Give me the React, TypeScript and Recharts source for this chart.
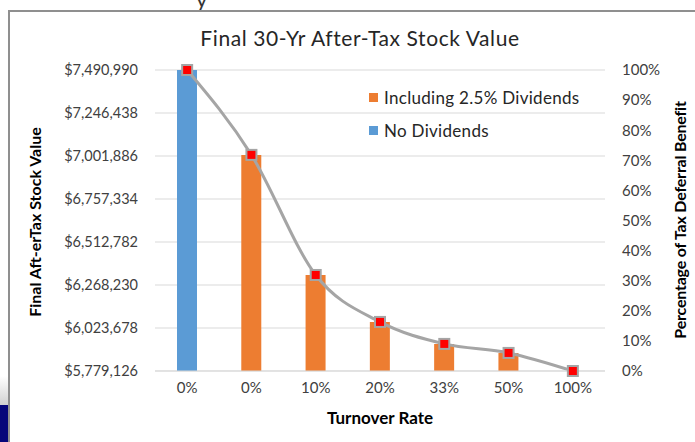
import React from 'react';
import {
  ComposedChart, Bar, Line, XAxis, YAxis, CartesianGrid, Legend, Cell
} from 'recharts';

const rates = ['0%', '0%', '10%', '20%', '33%', '50%', '100%'];
const stockValues = [7490990, 7007500, 6325100, 6057800, 5932700, 5881500, 5779126];
const deferralPct = [1.0, 0.718, 0.319, 0.163, 0.09, 0.06, 0.0];
const hasDividends = [false, true, true, true, true, true, true];

const valueTicks = [5779126, 6023678, 6268230, 6512782, 6757334, 7001886, 7246438, 7490990];
const pctTicks = [0, 0.1, 0.2, 0.3, 0.4, 0.5, 0.6, 0.7, 0.8, 0.9, 1.0];

const legendItems = [
  { label: 'Including 2.5% Dividends', color: '#ed7d31' },
  { label: 'No Dividends', color: '#5b9bd5' },
];

const BLUE = '#5b9bd5';
const ORANGE = '#ed7d31';
const FONT = 'Lato, "Open Sans", sans-serif';

const data = rates.map((rate, i) => ({
  rate,
  value: stockValues[i],
  pct: deferralPct[i],
  div: hasDividends[i],
}));

const SquareDot = (props: any) => {
  const { cx, cy } = props;
  if (cx == null || cy == null) return null;
  return (
    <rect x={cx - 5} y={cy - 5} width={10} height={10}
      fill="#ff0000" stroke="#a5a5a5" strokeWidth={2} />
  );
};

const LegendBox = () => (
  <div style={{ fontFamily: FONT, fontSize: 17, letterSpacing: 0.3, color: '#262626' }}>
    {legendItems.map((it) => (
      <div key={it.label} style={{ display: 'flex', alignItems: 'center', height: 33 }}>
        <span style={{ width: 9, height: 9, background: it.color, marginRight: 6 }} />
        {it.label}
      </div>
    ))}
  </div>
);

const vertLabel = { position: 'absolute' as const, transform: 'translate(-50%, -50%) rotate(-90deg)', whiteSpace: 'nowrap' as const, fontFamily: FONT, fontWeight: 700, fontSize: 16, color: '#000' };

export default function App() {
  return (
    <div style={{ position: 'fixed', left: 0, top: 0, width: 695, height: 442, background: '#fff', overflow: 'hidden' }}>
      {/* bits of the slide around the chart */}
      <div style={{ position: 'absolute', left: 196, top: -15, fontFamily: FONT, fontSize: 22, color: '#333' }}>y</div>
      <div style={{ position: 'absolute', left: 0, top: 376, width: 9, height: 30, background: 'linear-gradient(#ffffff, #cfcfcf)' }} />
      <div style={{ position: 'absolute', left: 0, top: 405, width: 9, height: 37, background: '#06067a' }} />
      <div style={{ position: 'absolute', left: 8, top: 10, right: 0, bottom: 0, borderTop: '2px solid #8f8f8f', borderLeft: '2px solid #8f8f8f' }} />

      <div style={{ position: 'absolute', left: 0, width: 720, top: 25, textAlign: 'center', fontFamily: FONT, fontSize: 21, letterSpacing: 0.6, color: '#262626' }}>
        Final 30-Yr After-Tax Stock Value
      </div>

      <div style={{ position: 'absolute', left: 34, top: 222, width: 0, height: 0 }}>
        <div style={{ ...vertLabel, letterSpacing: 0 }}>Final Aft-erTax Stock Value</div>
      </div>
      <div style={{ position: 'absolute', left: 679, top: 220, width: 0, height: 0 }}>
        <div style={{ ...vertLabel, letterSpacing: -0.2 }}>Percentage of Tax Deferral Benefit</div>
      </div>
      <div style={{ position: 'absolute', left: 0, width: 760, top: 407, textAlign: 'center', fontFamily: FONT, fontWeight: 700, fontSize: 17, color: '#000' }}>
        Turnover Rate
      </div>

      <div style={{ position: 'absolute', left: 0, top: 0 }}>
        <ComposedChart width={695} height={442} data={data}
          margin={{ top: 70, right: 0, bottom: 41, left: 0 }}>
          <CartesianGrid vertical={false} stroke="#d9d9d9" yAxisId="left" />
          <XAxis dataKey="rate" height={30} tickLine={false} axisLine={{ stroke: '#d9d9d9' }}
            tickMargin={5} tick={{ fontFamily: FONT, fontSize: 15, fill: '#404040' }} />
          <YAxis yAxisId="left" width={155} domain={[valueTicks[0], valueTicks[valueTicks.length - 1]]}
            ticks={valueTicks} interval={0} tickLine={false} axisLine={false} tickMargin={11}
            allowDataOverflow
            tick={{ fontFamily: FONT, fontSize: 14.5, fill: '#404040' }}
            tickFormatter={(v: number) => '$' + v.toLocaleString('en-US')} />
          <YAxis yAxisId="right" orientation="right" width={90} domain={[0, 1]}
            ticks={pctTicks} interval={0} tickLine={false} axisLine={false} tickMargin={11}
            tick={{ fontFamily: FONT, fontSize: 15, fill: '#404040', textAnchor: 'start' }}
            tickFormatter={(v: number) => `${Math.round(v * 100)}%`} />
          <Legend layout="vertical" verticalAlign="middle" align="center"
            wrapperStyle={{ left: 369, top: 81, width: 240 }} content={<LegendBox />} />
          <Bar yAxisId="left" dataKey="value" barSize={20} isAnimationActive={false}>
            {data.map((d, i) => (
              <Cell key={`cell-${i}`} fill={d.div ? ORANGE : BLUE} />
            ))}
          </Bar>
          <Line yAxisId="right" dataKey="pct" type="monotone" stroke="#a5a5a5" strokeWidth={3}
            dot={<SquareDot />} activeDot={false} isAnimationActive={false} />
        </ComposedChart>
      </div>
    </div>
  );
}
